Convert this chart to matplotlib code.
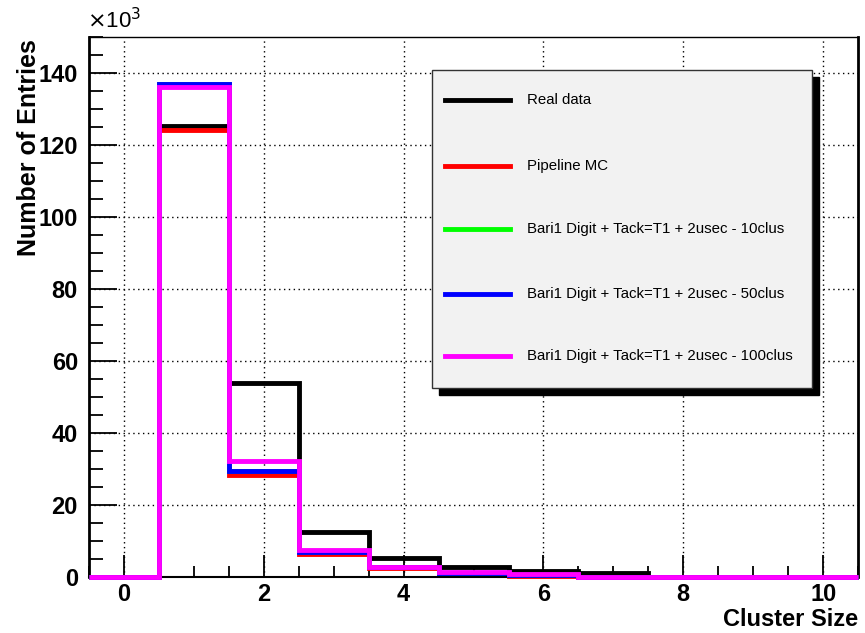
import numpy as np
import matplotlib
matplotlib.use('Agg')
import matplotlib.pyplot as plt
from matplotlib.patches import Rectangle
from matplotlib.lines import Line2D

plt.rcParams['font.family'] = ['Liberation Sans', 'DejaVu Sans']

# bin edges for cluster size 0..10
edges = np.arange(-0.5, 11.0, 1.0)

# entries per bin, in units of 10^3
real_data = [0, 125.3, 53.8, 12.4, 5.4, 2.8, 1.8, 1.2, 0.0, 0.0, 0.0]
pipeline_mc = [0, 124.2, 28.2, 6.3, 2.4, 1.0, 0.2, 0.0, 0.0, 0.0, 0.0]
bari_10 = [0, 136.9, 29.4, 7.0, 2.7, 1.2, 0.5, 0.1, 0.0, 0.0, 0.0]
bari_50 = [0, 137.0, 29.4, 7.0, 2.7, 1.2, 0.5, 0.1, 0.0, 0.0, 0.0]
bari_100 = [0, 136.0, 32.2, 7.6, 2.9, 1.4, 0.7, 0.1, 0.0, 0.0, 0.0]

labels = ['Real data', 'Pipeline MC',
          'Bari1 Digit + Tack=T1 + 2usec - 10clus',
          'Bari1 Digit + Tack=T1 + 2usec - 50clus',
          'Bari1 Digit + Tack=T1 + 2usec - 100clus']
colors = ['black', '#ff0000', '#00ff00', '#0000ff', '#ff00ff']
series = [real_data, pipeline_mc, bari_10, bari_50, bari_100]

fig = plt.figure(figsize=(8.65, 6.33), dpi=100)
ax = fig.add_axes([0.103, 0.0885, 0.889, 0.853])

for vals, c in zip(series, colors):
    ax.stairs(vals, edges, color=c, linewidth=3.5, baseline=0,
              zorder=3, clip_on=False)

ax.set_xlim(-0.5, 10.5)
ax.set_ylim(0, 150)

ax.set_xticks(np.arange(0, 11, 2))
ax.set_xticks(np.arange(-0.5, 10.6, 0.5), minor=True)
ax.set_yticks(np.arange(0, 141, 20))
ax.set_yticks(np.arange(0, 151, 5), minor=True)
ax.tick_params(which='both', direction='in', top=False, right=False,
               labelsize=17, width=1.3)
ax.tick_params(axis='x', which='major', length=16, pad=4)
ax.tick_params(axis='y', which='major', length=20, pad=8)
ax.tick_params(axis='x', which='minor', length=8)
ax.tick_params(axis='y', which='minor', length=10)
for lbl in ax.get_xticklabels() + ax.get_yticklabels():
    lbl.set_fontweight('bold')

ax.grid(True, which='major', color='black', linestyle=(0, (1, 2.5)), linewidth=1)
ax.set_axisbelow(True)

for s in ['left', 'right']:
    ax.spines[s].set_linewidth(2)
ax.spines['top'].set_linewidth(1)
ax.spines['bottom'].set_linewidth(1.5)

ax.set_ylabel('Number of Entries', fontsize=18, fontweight='bold')
ax.yaxis.set_label_coords(-0.063, 0.795)
ax.set_xlabel('Cluster Size', fontsize=17, fontweight='bold')
ax.xaxis.set_label_coords(1.0, -0.058)
ax.xaxis.label.set_horizontalalignment('right')

fig.text(0.101, 0.947, r'$\times$10$^{3}$', fontsize=16, ha='left', va='bottom')

# legend box with shadow, ROOT style
lx0, ly0, lw, lh = 0.499, 0.387, 0.440, 0.502
shadow = Rectangle((lx0 + 0.008, ly0 - 0.011), lw, lh, transform=fig.transFigure,
                   facecolor='black', edgecolor='black', zorder=5)
box = Rectangle((lx0, ly0), lw, lh, transform=fig.transFigure,
                facecolor='#f2f2f2', edgecolor='#333333', linewidth=1, zorder=6)
fig.patches.extend([shadow, box])

row_y = [0.842, 0.738, 0.639, 0.536, 0.438]
for y, lab, c in zip(row_y, labels, colors):
    fig.lines.append(Line2D([0.514, 0.590], [y, y], transform=fig.transFigure,
                            color=c, linewidth=3.5, zorder=7))
    fig.text(0.609, y, lab, fontsize=10.8, va='center', ha='left', zorder=7)

fig.savefig('out.png', dpi=100)
